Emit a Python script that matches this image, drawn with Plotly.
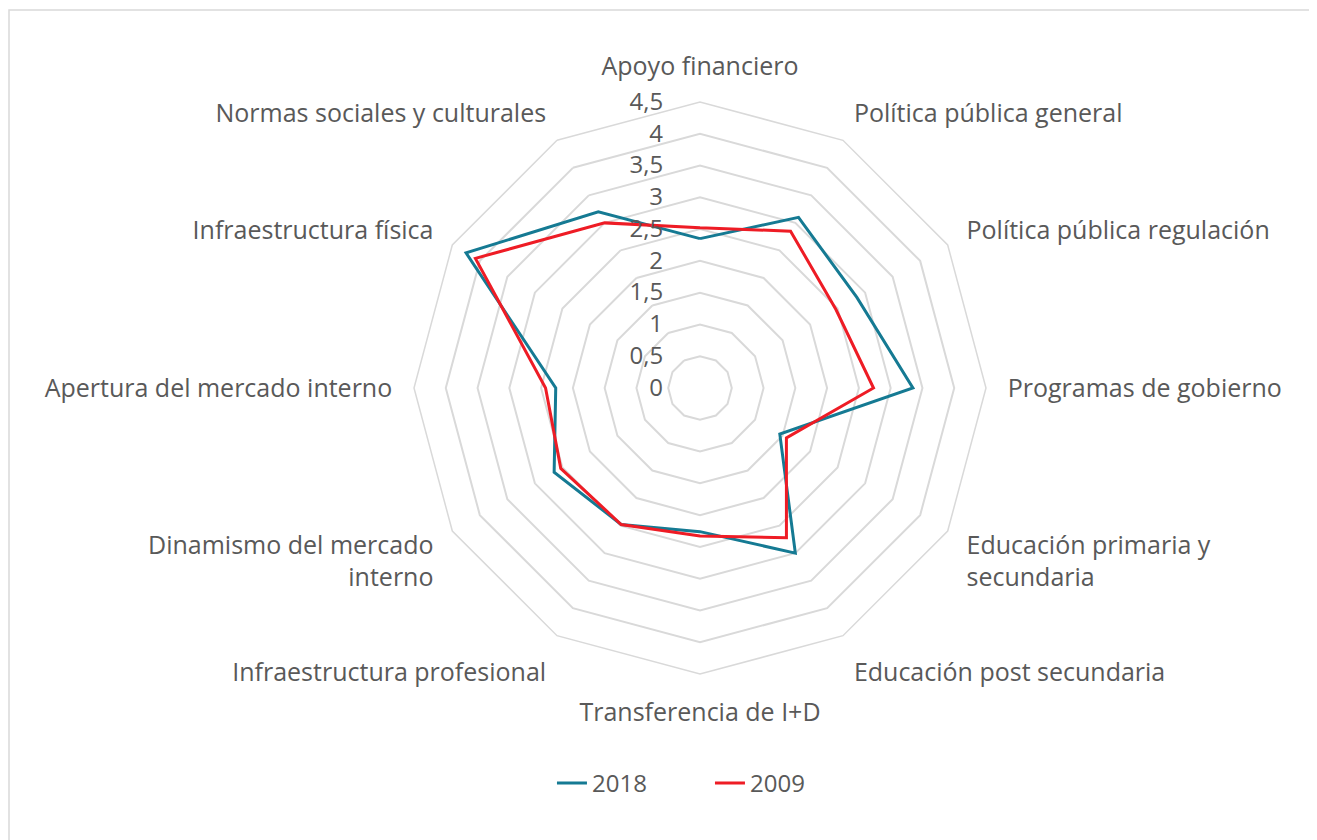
import plotly.graph_objects as go

categories = [
    "Apoyo financiero",
    "Política pública general",
    "Política pública regulación",
    "Programas de gobierno",
    "Educación primaria y<br>secundaria",
    "Educación post secundaria",
    "Transferencia de I+D",
    "Infraestructura profesional",
    "Dinamismo del mercado<br>interno",
    "Apertura del mercado interno",
    "Infraestructura física",
    "Normas sociales y culturales",
]
values_2018 = [2.35, 3.1, 2.85, 3.35, 1.45, 3.0, 2.26, 2.48, 2.65, 2.27, 4.25, 3.2]
values_2009 = [2.52, 2.85, 2.47, 2.73, 1.57, 2.72, 2.33, 2.48, 2.53, 2.43, 4.08, 3.0]
tick_vals = [0, 0.5, 1, 1.5, 2, 2.5, 3, 3.5, 4, 4.5]

font_family = "Open Sans, sans-serif"
text_color = "#595959"
grid_color = "#d9d9d9"

fig = go.Figure()
for name, vals, color in [("2018", values_2018, "#157a93"), ("2009", values_2009, "#ee1c25")]:
    fig.add_trace(go.Scatterpolar(
        r=vals + vals[:1],
        theta=categories + categories[:1],
        mode="lines",
        name=name,
        line=dict(color=color, width=3),
    ))

# page has an 8px body margin, so centre is shifted back by 8px
cx, cy, rad = 692, 380, 286
W, H = 1317, 840
fig.update_layout(
    width=W,
    height=H,
    paper_bgcolor="white",
    separators=", ",
    font=dict(family=font_family, size=24, color=text_color),
    margin=dict(l=0, r=0, t=0, b=0),
    showlegend=True,
    legend=dict(orientation="h", x=0.533, xanchor="center", y=0.077, yanchor="middle",
                font=dict(size=24, color=text_color), entrywidth=113, entrywidthmode="pixels"),
    polar=dict(
        domain=dict(x=[(cx - rad) / W, (cx + rad) / W], y=[(H - cy - rad) / H, (H - cy + rad) / H]),
        gridshape="linear",
        bgcolor="white",
        radialaxis=dict(
            range=[0, 4.5],
            tickvals=tick_vals,
            angle=90,
            tickangle=90,
            side="counterclockwise",
            showline=False,
            ticks="outside",
            ticklen=28,
            tickcolor="rgba(0,0,0,0)",
            gridcolor=grid_color,
            gridwidth=1.5,
            tickfont=dict(size=24, color=text_color),
        ),
        angularaxis=dict(
            direction="clockwise",
            rotation=90,
            showgrid=False,
            showline=True,
            linecolor=grid_color,
            linewidth=1.5,
            ticks="outside",
            ticklen=16,
            tickcolor="rgba(0,0,0,0)",
            tickfont=dict(size=25, color=text_color),
        ),
    ),
    shapes=[dict(type="rect", xref="paper", yref="paper", x0=1 / W, x1=1.01, y0=-0.01, y1=1 - 2 / H,
                 line=dict(color=grid_color, width=1.5))],
)

fig.write_html("out.html")
